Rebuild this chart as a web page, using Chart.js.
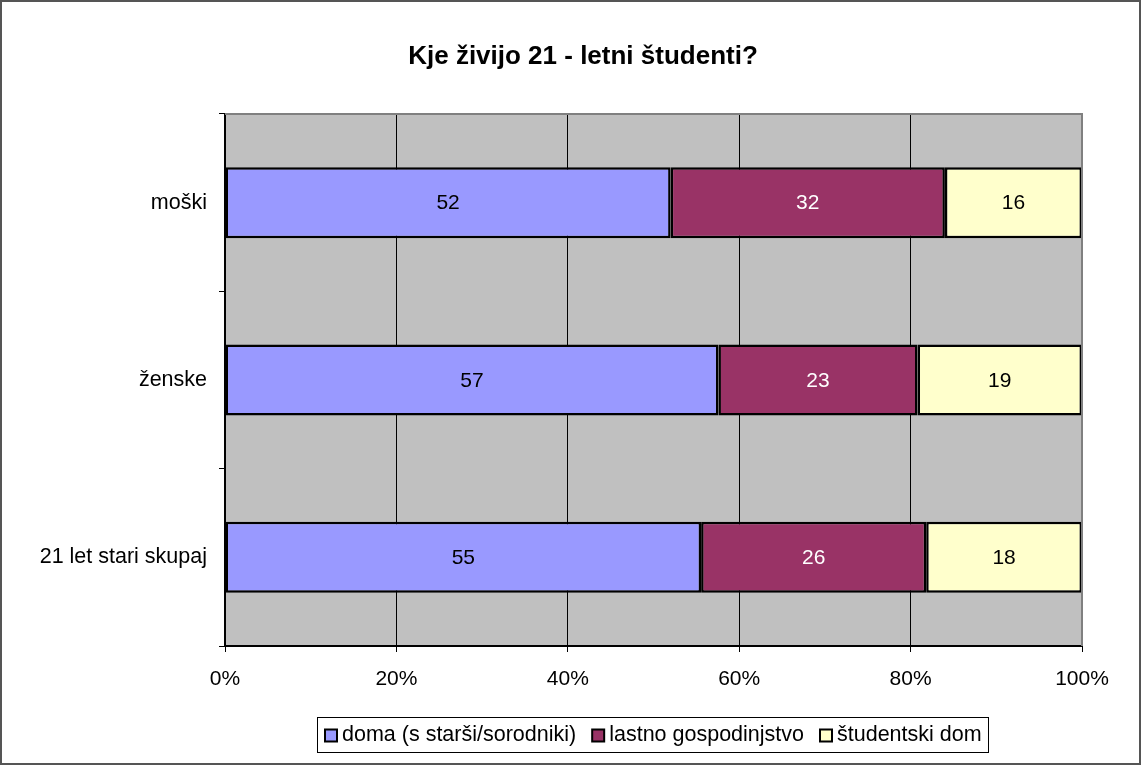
<!DOCTYPE html>
<html><head><meta charset="utf-8">
<script src="https://cdn.jsdelivr.net/npm/chart.js@4/dist/chart.umd.min.js"></script>
<style>html,body{margin:0;padding:0;background:#fff}#wrap{width:1141px;height:765px}</style>
</head><body><div id="wrap"><canvas id="c" width="1141" height="765"></canvas></div>
<script>
const title = 'Kje živijo 21 - letni študenti?';
const categories = ['moški', 'ženske', '21 let stari skupaj'];
const seriesNames = ['doma (s starši/sorodniki)', 'lastno gospodinjstvo', 'študentski dom'];
const doma = [52, 57, 55];
const lastno = [32, 23, 26];
const studentski = [16, 19, 18];
const xTicks = ['0%', '20%', '40%', '60%', '80%', '100%'];
const colors = ['#9999FF', '#993366', '#FFFFCC'];
const labelColors = ['#000000', '#FFFFFF', '#000000'];

const raw = [doma, lastno, studentski];
const totals = categories.map((_, i) => raw.reduce((s, a) => s + a[i], 0));
const datasets = raw.map((arr, k) => ({
  label: seriesNames[k],
  data: arr.map((v, i) => v / totals[i] * 100),
  rawValues: arr,
  backgroundColor: colors[k],
  borderColor: '#000',
  borderWidth: 2.5,
  borderSkipped: false,
  barPercentage: 1,
  categoryPercentage: 0.4
}));

const FONT = 'Arial, "Liberation Sans", sans-serif';

const deco = {
  id: 'deco',
  beforeDraw(chart) {
    const {ctx, chartArea: a} = chart;
    ctx.save();
    ctx.fillStyle = '#fff';
    ctx.fillRect(0, 0, chart.width, chart.height);
    ctx.fillStyle = '#C0C0C0';
    ctx.fillRect(a.left, a.top, a.right - a.left, a.bottom - a.top);
    ctx.restore();
  },
  afterDatasetsDraw(chart) {
    const {ctx} = chart;
    ctx.save();
    ctx.font = '21px ' + FONT;
    ctx.textAlign = 'center';
    ctx.textBaseline = 'middle';
    chart.data.datasets.forEach((ds, k) => {
      chart.getDatasetMeta(k).data.forEach((bar, i) => {
        const p = bar.getProps(['x', 'base', 'y'], true);
        ctx.fillStyle = labelColors[k];
        ctx.fillText(String(ds.rawValues[i]), (p.x + p.base) / 2, p.y + 1);
      });
    });
    ctx.restore();
  },
  afterDraw(chart) {
    const {ctx, chartArea: a} = chart;
    ctx.save();
    ctx.strokeStyle = '#808080';
    ctx.lineWidth = 2;
    ctx.beginPath();
    ctx.moveTo(a.left, a.top); ctx.lineTo(a.right, a.top); ctx.lineTo(a.right, a.bottom);
    ctx.stroke();
    // title
    ctx.fillStyle = '#000';
    ctx.font = 'bold 26px ' + FONT;
    ctx.textAlign = 'center';
    ctx.textBaseline = 'middle';
    ctx.fillText(title, 583, 57);
    // legend
    const lx = 317, ly = 717, lw = 671, lh = 35;
    ctx.fillStyle = '#fff';
    ctx.fillRect(lx, ly, lw, lh);
    ctx.strokeStyle = '#000';
    ctx.lineWidth = 1;
    ctx.strokeRect(lx + 0.5, ly + 0.5, lw, lh);
    ctx.font = '21.5px ' + FONT;
    ctx.textAlign = 'left';
    let x = lx + 8;
    const cy = ly + lh / 2 + 1;
    chart.data.datasets.forEach((ds, k) => {
      ctx.fillStyle = colors[k];
      ctx.fillRect(x, cy - 6, 12, 12);
      ctx.strokeStyle = '#000';
      ctx.lineWidth = 2;
      ctx.strokeRect(x, cy - 6, 12, 12);
      ctx.fillStyle = '#000';
      ctx.fillText(ds.label, x + 17, cy);
      x += 17 + ctx.measureText(ds.label).width + 16;
    });
    // outer border
    ctx.strokeStyle = '#555';
    ctx.lineWidth = 2;
    ctx.strokeRect(1, 1, chart.width - 2, chart.height - 2);
    ctx.restore();
  }
};

new Chart(document.getElementById('c'), {
  type: 'bar',
  data: { labels: categories, datasets },
  options: {
    indexAxis: 'y',
    responsive: false,
    animation: false,
    devicePixelRatio: 1,
    layout: { padding: { left: 0, right: 59, top: 114, bottom: 69 } },
    plugins: { legend: { display: false }, title: { display: false }, tooltip: { enabled: false } },
    scales: {
      x: {
        stacked: true,
        min: 0, max: 100,
        afterFit(s) { s.height = 50; },
        afterBuildTicks(s) { s.ticks = xTicks.map((_, i) => ({ value: i * 20 })); },
        ticks: {
          callback: (v, i) => xTicks[i],
          color: '#000',
          font: { family: FONT, size: 21 },
          padding: 15,
          maxRotation: 0
        },
        grid: { color: '#000', lineWidth: 1, tickLength: 6, drawTicks: true },
        border: { color: '#000', width: 2 }
      },
      y: {
        stacked: true,
        afterFit(s) { s.width = 225; },
        ticks: { color: '#000', font: { family: FONT, size: 21.5 }, padding: 12 },
        grid: { offset: true, drawOnChartArea: false, color: '#000', tickLength: 6 },
        border: { color: '#000', width: 2 }
      }
    }
  },
  plugins: [deco]
});
</script></body></html>
